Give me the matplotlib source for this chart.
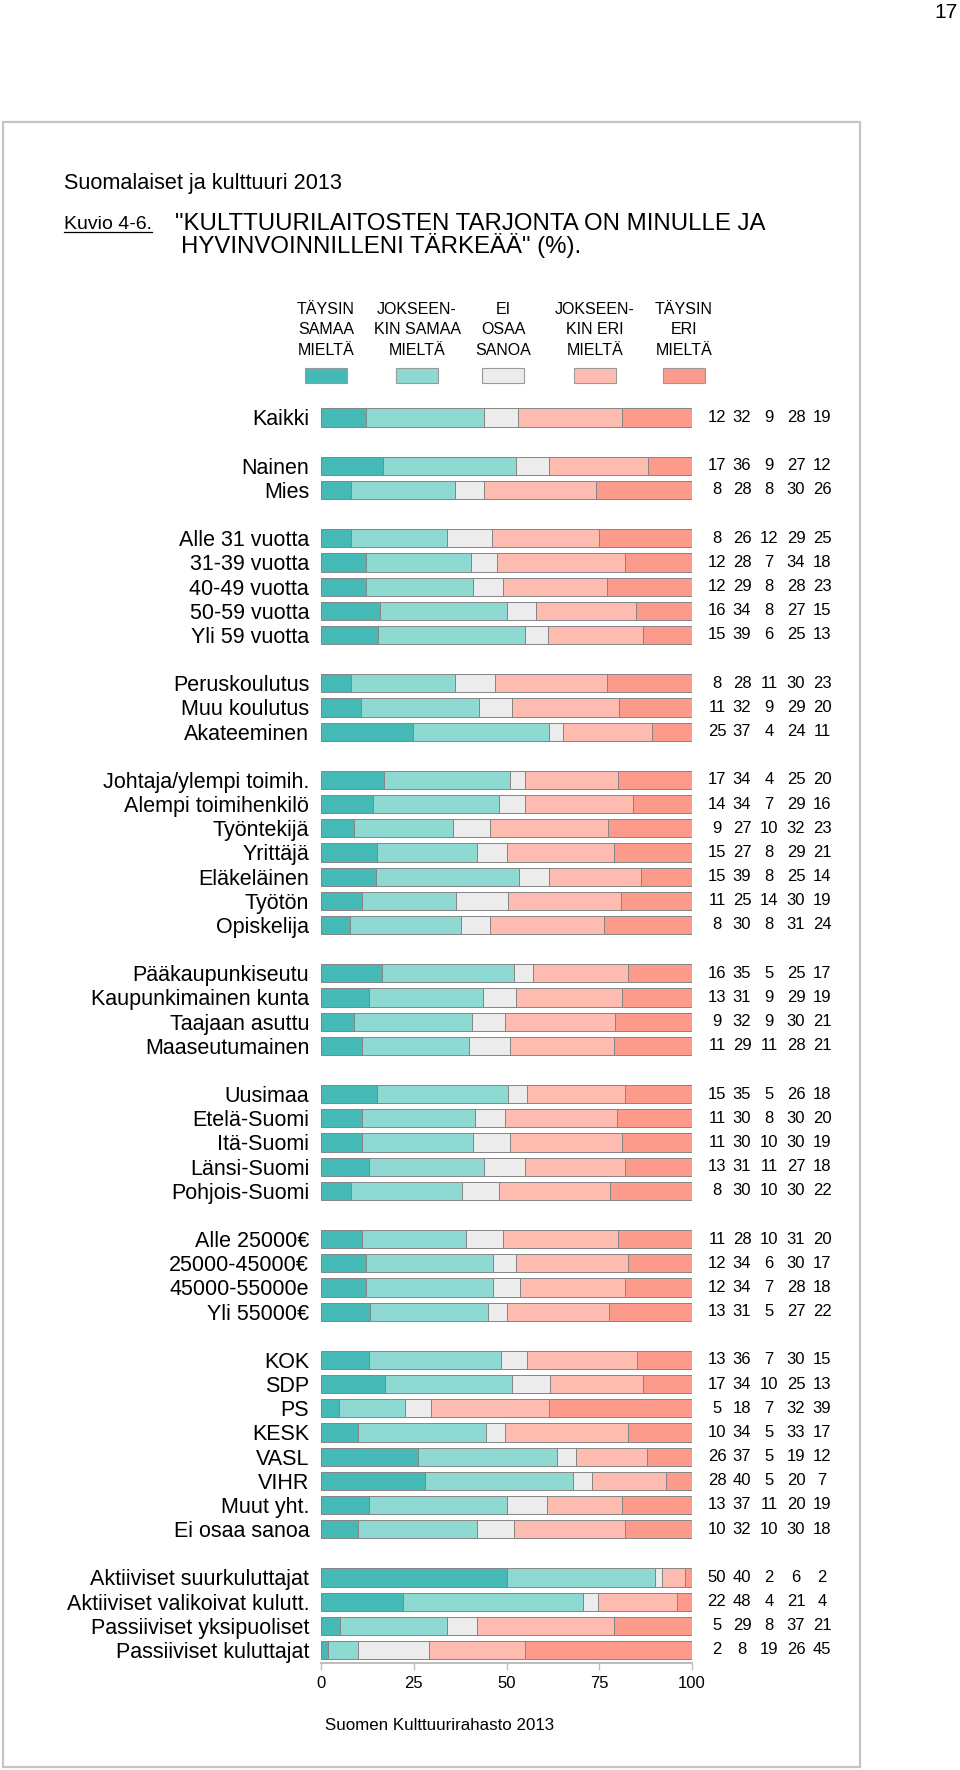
import numpy as np
import matplotlib
matplotlib.use("Agg")
import matplotlib.pyplot as plt
from matplotlib.patches import Rectangle
from matplotlib.lines import Line2D

plt.rcParams['font.family'] = ['Liberation Sans', 'DejaVu Sans']

# ---------------- data ----------------
categories = [
    "Kaikki",
    "Nainen", "Mies",
    "Alle 31 vuotta", "31-39 vuotta", "40-49 vuotta", "50-59 vuotta", "Yli 59 vuotta",
    "Peruskoulutus", "Muu koulutus", "Akateeminen",
    "Johtaja/ylempi toimih.", "Alempi toimihenkilö", "Työntekijä", "Yrittäjä",
    "Eläkeläinen", "Työtön", "Opiskelija",
    "Pääkaupunkiseutu", "Kaupunkimainen kunta", "Taajaan asuttu", "Maaseutumainen",
    "Uusimaa", "Etelä-Suomi", "Itä-Suomi", "Länsi-Suomi", "Pohjois-Suomi",
    "Alle 25000€", "25000-45000€", "45000-55000e", "Yli 55000€",
    "KOK", "SDP", "PS", "KESK", "VASL", "VIHR", "Muut yht.", "Ei osaa sanoa",
    "Aktiiviset suurkuluttajat", "Aktiiviset valikoivat kulutt.",
    "Passiiviset yksipuoliset", "Passiiviset kuluttajat",
]
group_sizes = [1, 2, 5, 3, 7, 4, 5, 4, 8, 4]

taysin_samaa = [12, 17, 8, 8, 12, 12, 16, 15, 8, 11, 25, 17, 14, 9, 15, 15, 11, 8,
                16, 13, 9, 11, 15, 11, 11, 13, 8, 11, 12, 12, 13,
                13, 17, 5, 10, 26, 28, 13, 10, 50, 22, 5, 2]
jokseenkin_samaa = [32, 36, 28, 26, 28, 29, 34, 39, 28, 32, 37, 34, 34, 27, 27, 39, 25, 30,
                    35, 31, 32, 29, 35, 30, 30, 31, 30, 28, 34, 34, 31,
                    36, 34, 18, 34, 37, 40, 37, 32, 40, 48, 29, 8]
ei_osaa = [9, 9, 8, 12, 7, 8, 8, 6, 11, 9, 4, 4, 7, 10, 8, 8, 14, 8,
           5, 9, 9, 11, 5, 8, 10, 11, 10, 10, 6, 7, 5,
           7, 10, 7, 5, 5, 5, 11, 10, 2, 4, 8, 19]
jokseenkin_eri = [28, 27, 30, 29, 34, 28, 27, 25, 30, 29, 24, 25, 29, 32, 29, 25, 30, 31,
                  25, 29, 30, 28, 26, 30, 30, 27, 30, 31, 30, 28, 27,
                  30, 25, 32, 33, 19, 20, 20, 30, 6, 21, 37, 26]
taysin_eri = [19, 12, 26, 25, 18, 23, 15, 13, 23, 20, 11, 20, 16, 23, 21, 14, 19, 24,
              17, 19, 21, 21, 18, 20, 19, 18, 22, 20, 17, 18, 22,
              15, 13, 39, 17, 12, 7, 19, 18, 2, 4, 21, 45]

legend_labels = ["TÄYSIN\nSAMAA\nMIELTÄ", "JOKSEEN-\nKIN SAMAA\nMIELTÄ",
                 "EI\nOSAA\nSANOA", "JOKSEEN-\nKIN ERI\nMIELTÄ", "TÄYSIN\nERI\nMIELTÄ"]
colors = ["#45b9b5", "#8fd9d3", "#ececec", "#fdbcaf", "#fc9a8b"]
xticks = [0, 25, 50, 75, 100]

# ---------------- figure ----------------
W, H = 960, 1770
fig = plt.figure(figsize=(W / 100, H / 100), dpi=100)

def fx(px):
    return px / W

def fy(py):
    return 1 - py / H

# outer frame
fig.patches.append(Rectangle((fx(3), fy(1767)), fx(860) - fx(3), (1767 - 122) / H,
                             transform=fig.transFigure, fill=False,
                             edgecolor="#c4c4c4", lw=1.6))

fig.text(fx(958), fy(13), "17", ha="right", va="center", fontsize=15)
fig.text(fx(64), fy(183), "Suomalaiset ja kulttuuri 2013", ha="left", va="center",
         fontsize=15.6)
fig.text(fx(64), fy(229), "Kuvio 4-6.", ha="left", va="baseline", fontsize=14)
fig.lines.append(Line2D([fx(64), fx(152)], [fy(232), fy(232)],
                        transform=fig.transFigure, color="black", lw=0.9))
fig.text(fx(175), fy(230), '"KULTTUURILAITOSTEN TARJONTA ON MINULLE JA',
         ha="left", va="baseline", fontsize=17.3)
fig.text(fx(181), fy(253), 'HYVINVOINNILLENI TÄRKEÄÄ" (%).',
         ha="left", va="baseline", fontsize=17.3)

# legend
leg_x = [326, 417, 503, 595, 684]
for cx, lab, col in zip(leg_x, legend_labels, colors):
    for i, line in enumerate(lab.split("\n")):
        fig.text(fx(cx), fy(309 + 20.5 * i), line, ha="center", va="center",
                 fontsize=11.5)
    fig.patches.append(Rectangle((fx(cx - 21), fy(383)), 42 / W, 15 / H,
                                 transform=fig.transFigure, facecolor=col,
                                 edgecolor="#9a9a9a", lw=0.8))

fig.text(fx(440), fy(1725), "Suomen Kulttuurirahasto 2013", ha="center",
         va="center", fontsize=12.2)

# ---------------- bars ----------------
ypos = []
slot = 0
for g in group_sizes:
    for _ in range(g):
        ypos.append(slot)
        slot += 1
    slot += 1
ypos = np.array(ypos, dtype=float)
last = ypos[-1]

ax_top_px = 417.5 - 12.1
ax_bot_px = 1663
ax = fig.add_axes([fx(321), fy(ax_bot_px), (692 - 321) / W, (ax_bot_px - ax_top_px) / H])
slot_px = (1650 - 417.5) / last

series = np.array([taysin_samaa, jokseenkin_samaa, ei_osaa, jokseenkin_eri, taysin_eri],
                  dtype=float)
totals = series.sum(axis=0)
shares = series / totals * 100

left = np.zeros(len(categories))
for k in range(5):
    ax.barh(ypos, shares[k], left=left, height=0.75, color=colors[k],
            edgecolor="#858585", linewidth=0.7)
    left += shares[k]

ax.set_xlim(0, 100)
ax.set_ylim(last + (ax_bot_px - 1650) / slot_px, -0.5)
ax.set_yticks(ypos)
ax.set_yticklabels(categories, fontsize=15.5)
ax.tick_params(axis="y", length=0, pad=8.5)
ax.set_xticks(xticks)
ax.set_xticklabels([str(t) for t in xticks], fontsize=12)
ax.tick_params(axis="x", length=5, width=1.0, color="#bdbdbd", pad=4)
for s in ["left", "top", "right"]:
    ax.spines[s].set_visible(False)
ax.spines["bottom"].set_color("#bdbdbd")
ax.spines["bottom"].set_linewidth(1.4)

# value columns
col_px = [717, 742, 769, 796, 822]
col_x = [(p - 321) / 371 * 100 for p in col_px]
for i, y in enumerate(ypos):
    for k in range(5):
        ax.text(col_x[k], y, str(int(series[k, i])), ha="center", va="center",
                fontsize=12, clip_on=False)

fig.savefig("out.png", dpi=100)
